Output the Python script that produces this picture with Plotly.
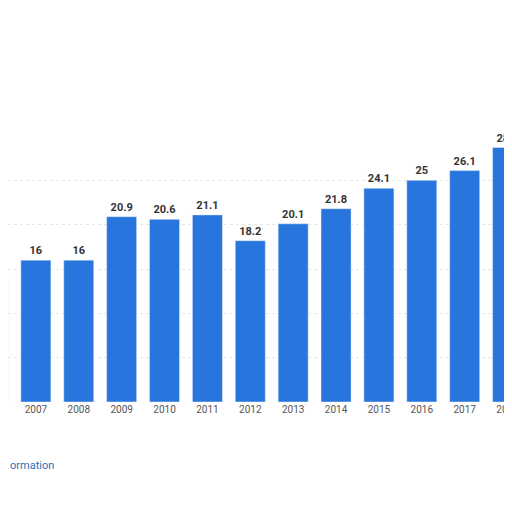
import plotly.graph_objects as go

years = [2006, 2007, 2008, 2009, 2010, 2011, 2012, 2013, 2014, 2015, 2016, 2017, 2018]
values = [14.0, 16, 16, 20.9, 20.6, 21.1, 18.2, 20.1, 21.8, 24.1, 25, 26.1, 28.7]
labels = ["", "16", "16", "20.9", "20.6", "21.1", "18.2", "20.1", "21.8", "24.1", "25", "26.1", "28.7"]

fig = go.Figure(go.Bar(
    x=years, y=values, width=0.7,
    marker_color="#2876dd",
    text=["<b>%s</b>" % t if t else "" for t in labels],
    textposition="outside", cliponaxis=False,
    textfont=dict(family="Roboto", size=11, color="#333333"),
))

fig.update_layout(
    width=512, height=512,
    margin=dict(l=0, r=0, t=128, b=118),
    paper_bgcolor="white", plot_bgcolor="white",
    showlegend=False,
    font=dict(family="Roboto", size=10, color="#555555"),
    xaxis=dict(range=[2006.35, 2018.29], tickvals=years,
               ticktext=[str(y) for y in years], showgrid=False,
               showline=False, ticks=""),
    yaxis=dict(range=[0, 30], dtick=5, showticklabels=False,
               gridcolor="#e6e6e6", griddash="dot", zeroline=False),
    annotations=[
        dict(x=0, y=-0.27, xref="paper", yref="paper", xanchor="left",
             text="ormation", showarrow=False,
             font=dict(size=11, color="#2b6fb6")),
        dict(x=1, y=-0.19, xref="paper", yref="paper", xanchor="right",
             text="©", showarrow=False, font=dict(size=11, color="#555555")),
    ],
)

fig.write_html("out.html")
